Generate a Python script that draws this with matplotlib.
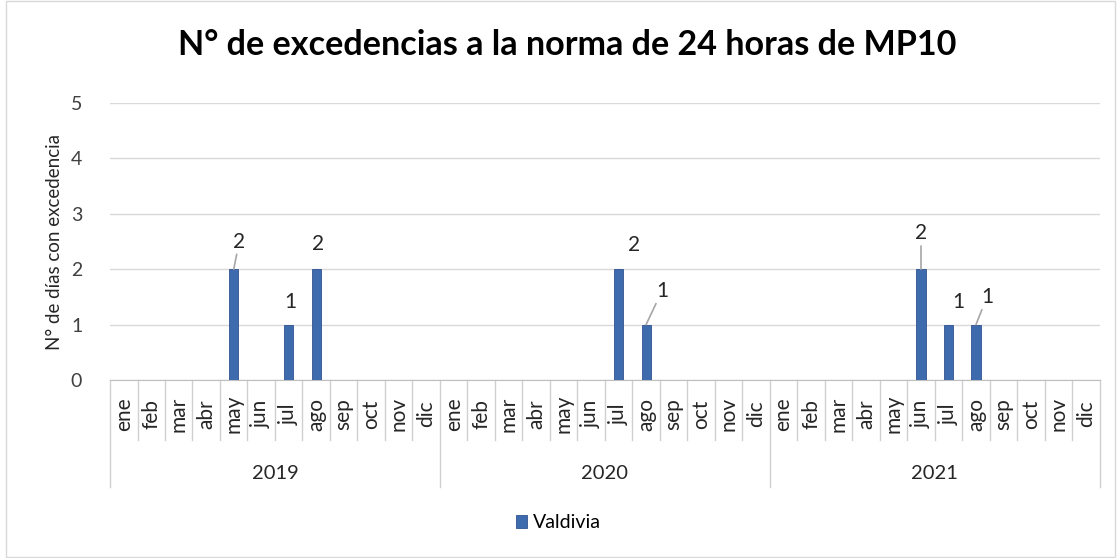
import matplotlib.pyplot as plt
import matplotlib.transforms as mtransforms

years = ["2019", "2020", "2021"]
months = ["ene", "feb", "mar", "abr", "may", "jun", "jul", "ago", "sep", "oct", "nov", "dic"]
valdivia_2019 = [0, 0, 0, 0, 2, 0, 1, 2, 0, 0, 0, 0]
valdivia_2020 = [0, 0, 0, 0, 0, 0, 2, 1, 0, 0, 0, 0]
valdivia_2021 = [0, 0, 0, 0, 0, 2, 1, 1, 0, 0, 0, 0]

values = valdivia_2019 + valdivia_2020 + valdivia_2021
labels = months * len(years)
x = list(range(len(values)))

plt.rcParams['font.family'] = ['Lato', 'DejaVu Sans']

fig = plt.figure(figsize=(11.17, 5.58), dpi=100)
ax = fig.add_axes([0.0985, 0.319, 0.886, 0.4964])

bar_color = "#3E6AAE"
ax.bar(x, values, width=0.33, color=bar_color, edgecolor="#2F528F", linewidth=0.6,
       label="Valdivia", zorder=3)

ax.set_ylim(0, 5)
ax.set_xlim(-0.5, len(values) - 0.5)
ax.set_yticks(range(6))
ax.tick_params(axis="y", length=0, labelsize=14, colors="#404040", pad=20)
ax.grid(axis="y", color="#D9D9D9", linewidth=1, zorder=0)
for s in ["top", "right", "left"]:
    ax.spines[s].set_visible(False)
ax.spines["bottom"].set_color("#BFBFBF")
ax.set_xticks([])
ax.set_ylabel("N° de días con excedencia", fontsize=13.5, color="#262626", labelpad=6)

trans = mtransforms.blended_transform_factory(ax.transData, ax.transAxes)
line_kw = dict(color="#D0D0D0", linewidth=1, transform=trans, clip_on=False)
# month / year boundaries
for i in range(len(values) + 1):
    b = i - 0.5
    low = -0.386 if i % 12 == 0 else -0.217
    ax.plot([b, b], [0, low], **line_kw)
for i, m in enumerate(labels):
    ax.text(i, -0.123, m, rotation=90, ha="center", va="center", fontsize=15,
            color="#262626", transform=trans)
for j, y in enumerate(years):
    ax.text(j * 12 + 5.5, -0.336, y, ha="center", va="center", fontsize=14.5,
            color="#262626", transform=trans)

# data labels (offset in data units, leader flag)
label_pos = {
    4: (0.2, 0.5, True),
    6: (0.05, 0.4, False),
    7: (0.05, 0.45, False),
    18: (0.55, 0.43, False),
    19: (0.58, 0.61, True),
    29: (0.0, 0.65, True),
    30: (0.35, 0.4, False),
    31: (0.4, 0.5, True),
}
for i, (dx, dy, leader) in label_pos.items():
    v = values[i]
    if leader:
        ax.annotate(str(v), xy=(i, v), xytext=(i + dx, v + dy), ha="center", va="center",
                    fontsize=15, color="#262626",
                    arrowprops=dict(arrowstyle="-", color="#A6A6A6", lw=1.2, shrinkA=0, shrinkB=0))
    else:
        ax.text(i + dx, v + dy, str(v), ha="center", va="center", fontsize=15, color="#262626")

fig.suptitle("N° de excedencias a la norma de 24 horas de MP10", x=0.508, y=0.948,
             fontsize=24.6, fontweight="bold", color="black")
fig.legend(loc="center", bbox_to_anchor=(0.5, 0.063), frameon=False, fontsize=14,
           handlelength=0.6, handleheight=0.6, handletextpad=0.3)

border = plt.Rectangle((0.005, 0.002), 0.993, 0.996, transform=fig.transFigure,
                       fill=False, edgecolor="#D9D9D9", linewidth=1)
fig.patches.append(border)

fig.savefig("out.png", dpi=100)
